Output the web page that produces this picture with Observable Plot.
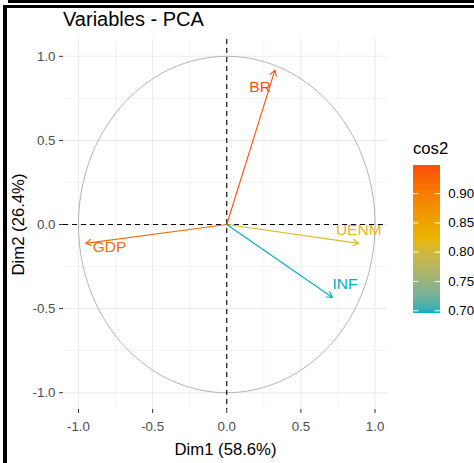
<!DOCTYPE html>
<html><head><meta charset="utf-8">
<script src="https://cdn.jsdelivr.net/npm/d3@7"></script>
<script src="https://cdn.jsdelivr.net/npm/@observablehq/plot@0.6"></script>
<style>
html,body{margin:0;padding:0;background:#fff;overflow:hidden}
#wrap{position:relative;width:474px;height:463px;background:#fff;font-family:"Liberation Sans",Arial,sans-serif;overflow:hidden}
.abs{position:absolute}
.bar{position:absolute;background:#000}
#title{position:absolute;left:63px;top:9px;font-size:20px;line-height:20px;color:#000;white-space:nowrap}
#ltitle{position:absolute;left:413px;top:141px;font-size:16.7px;line-height:16.7px;color:#000;white-space:nowrap}
</style></head><body>
<div id="wrap">
 <div id="chart" class="abs" style="left:0;top:0;width:474px;height:463px"></div>
 <div id="title">Variables - PCA</div>
 <div id="ltitle">cos2</div>
 <div id="legend" class="abs" style="left:413px;top:157px;width:61px;height:163px"></div>
 <div class="bar" style="left:8px;top:0;width:466px;height:3px"></div>
 <div class="bar" style="left:3px;top:5px;width:471px;height:3px"></div>
 <div class="bar" style="left:3px;top:5px;width:4px;height:458px"></div>
</div>
<script>
// ---- data ----
const variables = ["GDP", "BR", "UENM", "INF"];
const dim1 = [-0.952, 0.325, 0.890, 0.713];
const dim2 = [-0.112, 0.918, -0.112, -0.434];
const cos2 = [0.919, 0.948, 0.815, 0.697];
const labelDim1 = [-0.791, 0.225, 0.890, 0.797];
const labelDim2 = [-0.132, 0.819, -0.033, -0.352];
const axisTicks = [-1, -0.5, 0, 0.5, 1];
const minorTicks = [-0.75, -0.25, 0.25, 0.75];
const legendTicks = [0.70, 0.75, 0.80, 0.85, 0.90];
const gradientColors = ["#00AFBB", "#E7B800", "#FC4E07"];
const xTitle = "Dim1 (58.6%)";
const yTitle = "Dim2 (26.4%)";

const FONT = "'Liberation Sans', Arial, sans-serif";
const data = variables.map((v, i) => ({name: v, x: dim1[i], y: dim2[i], cos2: cos2[i], lx: labelDim1[i], ly: labelDim2[i]}));
const [lo, hi] = d3.extent(cos2);
const colorScale = {type: "linear", domain: [lo, (lo + hi) / 2, hi], range: gradientColors, interpolate: "lab"};
// correlation circle (unit circle geometry)
const circle = d3.range(0, 361, 2).map(a => ({x: Math.cos(a * Math.PI / 180), y: Math.sin(a * Math.PI / 180)}));

const gridMinor = {stroke: "#ebebeb", strokeOpacity: 1, strokeWidth: 0.6};
const gridMajor = {stroke: "#ebebeb", strokeOpacity: 1, strokeWidth: 1.1};

const chart = Plot.plot({
  width: 474, height: 463,
  marginTop: 39, marginRight: 87, marginBottom: 54, marginLeft: 63,
  x: {domain: [-1.101, 1.084]},
  y: {domain: [-1.1, 1.1]},
  color: colorScale,
  style: {fontFamily: FONT, background: "transparent", overflow: "visible"},
  marks: [
    Plot.gridX(minorTicks, gridMinor),
    Plot.gridY(minorTicks, gridMinor),
    Plot.gridX(axisTicks, gridMajor),
    Plot.gridY(axisTicks, gridMajor),
    Plot.line(circle, {x: "x", y: "y", stroke: "#b3b3b3", strokeWidth: 1}),
    Plot.ruleX([0], {stroke: "#000", strokeDasharray: "5,4", strokeWidth: 1.1}),
    Plot.ruleY([0], {stroke: "#000", strokeDasharray: "5,4", strokeWidth: 1.1}),
    Plot.arrow(data, {x1: 0, y1: 0, x2: "x", y2: "y", stroke: "cos2", strokeWidth: 1.1, headLength: 8.6, headAngle: 60}),
    Plot.text(data, {x: "lx", y: "ly", text: "name", fill: "cos2", fontSize: 15.5}),
    Plot.axisX(axisTicks, {tickFormat: d => d.toFixed(1), tickSize: 4, tickPadding: 8, fontSize: 13.3, fill: "#4d4d4d", stroke: "#333", label: null}),
    Plot.axisX([], {label: xTitle, labelAnchor: "center", labelArrow: false, labelOffset: 45, fontSize: 16.7, fill: "#000"}),
    Plot.axisY(axisTicks, {tickFormat: d => d.toFixed(1), tickSize: 4, tickPadding: 4, fontSize: 13.3, fill: "#4d4d4d", stroke: "#333", label: null}),
    Plot.axisY([], {label: yTitle, labelAnchor: "center", labelArrow: false, labelOffset: 51, fontSize: 16.7, fill: "#000"})
  ]
});
document.getElementById("chart").appendChild(chart);

// colour bar legend (continuous gradient drawn as thin rules)
const N = 300;
const steps = d3.range(N).map(i => ({v: lo + (hi - lo) * (i + 0.5) / N}));
const legend = Plot.plot({
  width: 61, height: 163,
  marginTop: 8, marginBottom: 8, marginLeft: 0, marginRight: 34,
  x: {domain: [0, 1], axis: null},
  y: {domain: [lo, hi]},
  color: colorScale,
  style: {fontFamily: FONT, background: "transparent", overflow: "visible"},
  marks: [
    Plot.ruleY(steps, {y: "v", x1: 0, x2: 1, stroke: "v", strokeWidth: 1.5}),
    Plot.ruleY(legendTicks, {x1: 0, x2: 0.2, stroke: "white", strokeWidth: 1}),
    Plot.ruleY(legendTicks, {x1: 0.8, x2: 1, stroke: "white", strokeWidth: 1}),
    Plot.axisY(legendTicks, {anchor: "right", tickSize: 0, tickPadding: 7.7, tickFormat: d => d.toFixed(2), fontSize: 13.3, fill: "#000", label: null})
  ]
});
document.getElementById("legend").appendChild(legend);
</script>
</body></html>
